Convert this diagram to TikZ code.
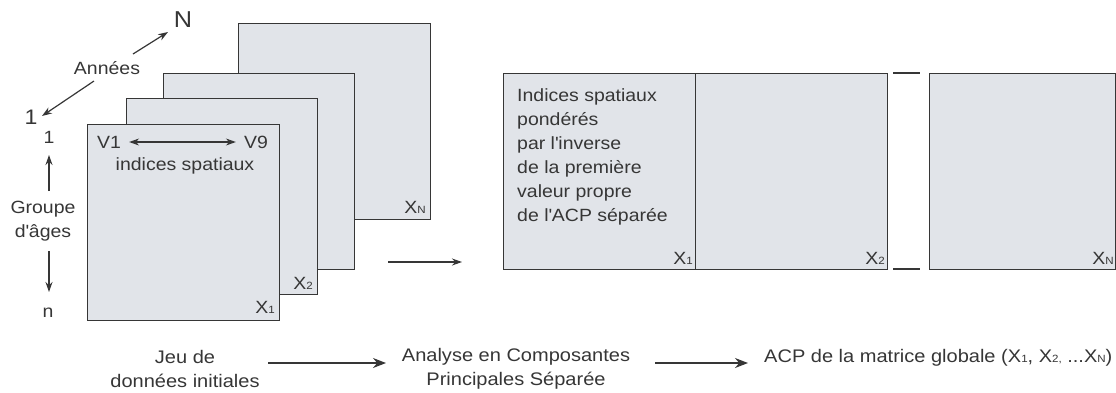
\documentclass[tikz,border=0pt]{standalone}
\usepackage{fontspec}
\setmainfont[FakeStretch=1.1]{Liberation Sans}
\usetikzlibrary{arrows.meta}
\newcommand{\subx}[1]{{\fontsize{10.5}{10}\selectfont #1}}
\newcommand{\ap}{\textquotesingle}
\definecolor{boxfill}{HTML}{E1E4E9}
\definecolor{ink}{HTML}{363636}
\begin{document}
\begin{tikzpicture}[x=1pt,y=-1pt,
  mat/.style={draw=ink, fill=boxfill, line width=1.4pt, inner sep=0pt},
  lbl/.style={font=\fontsize{17.7}{24}\selectfont, text=ink, inner sep=0pt},
  blbl/.style={font=\fontsize{18.2}{24}\selectfont, text=ink, inner sep=0pt},
  arr/.style={draw=ink, line width=1.2pt, -{Stealth[length=10pt,width=7pt]}},
  dblarr/.style={draw=ink, line width=1.2pt, {Stealth[length=10pt,width=7pt]}-{Stealth[length=10pt,width=7pt]}},
  bigarr/.style={draw=ink, line width=1.4pt, -{Stealth[length=13pt,width=10pt]}},
  gapline/.style={draw=ink, line width=1.4pt},
]
\useasboundingbox (0,0) rectangle (1116,392);

% ---- stack of matrices
\node[mat, anchor=north west, minimum width=192pt, minimum height=196pt] (sN) at (238,23) {};
\node[mat, anchor=north west, minimum width=191pt, minimum height=196pt] (s3) at (163,73) {};
\node[mat, anchor=north west, minimum width=191pt, minimum height=196pt] (s2) at (126,98) {};
\node[mat, anchor=north west, minimum width=192pt, minimum height=196pt] (s1) at (87,124) {};

\node[lbl] (xNl) at (415,207) {X\subx{N}};
\node[lbl] (x2l) at (303,283) {X\subx{2}};
\node[lbl] (x1l) at (265,307) {X\subx{1}};

\node[lbl] (v1) at (109,142) {V1};
\node[lbl] (v9) at (256,142) {V9};
\draw[dblarr] ([xshift=8pt]v1.east) -- ([xshift=-8pt]v9.west);
\node[lbl] (ispat) at (185,166) {indices spatiaux};

% ---- axes labels
\node[lbl, font=\fontsize{23}{23}\selectfont] (Nlab) at (183,20) {N};
\node[lbl] (ann) at (107,68) {Années};
\node[lbl, font=\fontsize{21}{21}\selectfont] (oneY) at (31,117) {1};
\coordinate (annA) at (133,54);
\coordinate (annB) at (168,32);
\coordinate (annC) at (94,81);
\coordinate (annD) at (42,116);
\draw[arr] (annA) -- (annB);
\draw[arr] (annC) -- (annD);

\node[lbl] (oneA) at (49,137) {1};
\node[lbl, align=center] (grp) at (43,221) {Groupe\\d\ap âges};
\node[lbl, anchor=base] (nA) at (48,317) {n};
\coordinate (gA) at (49,191);
\coordinate (gB) at (49,155);
\coordinate (gC) at (49,251);
\coordinate (gD) at (49,292);
\draw[arr] (gA) -- (gB);
\draw[arr] (gC) -- (gD);

% ---- middle arrow
\coordinate (mA) at (388,262);
\coordinate (mB) at (462,262);
\draw[arr] (mA) -- (mB);

% ---- global matrix
\node[mat, anchor=north west, minimum width=192pt, minimum height=196pt] (g1) at (503,73) {};
\node[mat, anchor=north west, minimum width=192pt, minimum height=196pt] (g2) at (695,73) {};
\node[mat, anchor=north west, minimum width=186pt, minimum height=196pt] (gN) at (929,73) {};
\coordinate (gapA) at (893,73);
\coordinate (gapB) at (920,73);
\coordinate (gapC) at (893,269);
\coordinate (gapD) at (920,269);
\draw[gapline] (gapA) -- (gapB);
\draw[gapline] (gapC) -- (gapD);

\node[lbl, align=left, anchor=north west] (gtxt) at (517,88)
  {Indices spatiaux\\pondérés\\par l\ap inverse\\de la première\\valeur propre\\de l\ap ACP séparée};
\node[lbl] (gx1) at (683,258) {X\subx{1}};
\node[lbl] (gx2) at (875,258) {X\subx{2}};
\node[lbl] (gxN) at (1103,258) {X\subx{N}};

% ---- bottom flow
\node[blbl, align=center] (jeu) at (185,369) {Jeu de\\données initiales};
\node[blbl, align=center] (acp) at (516,369) {Analyse en Composantes\\Principales Séparée};
\node[blbl, anchor=west] (glob) at (764,358) {ACP de la matrice globale (X\subx{1}, X\subx{2,} ...X\subx{N})};
\coordinate (bA) at (268,363);
\coordinate (bB) at (386,363);
\coordinate (bC) at (655,363);
\coordinate (bD) at (748,363);
\draw[bigarr] (bA) -- (bB);
\draw[bigarr] (bC) -- (bD);
\end{tikzpicture}
\end{document}
